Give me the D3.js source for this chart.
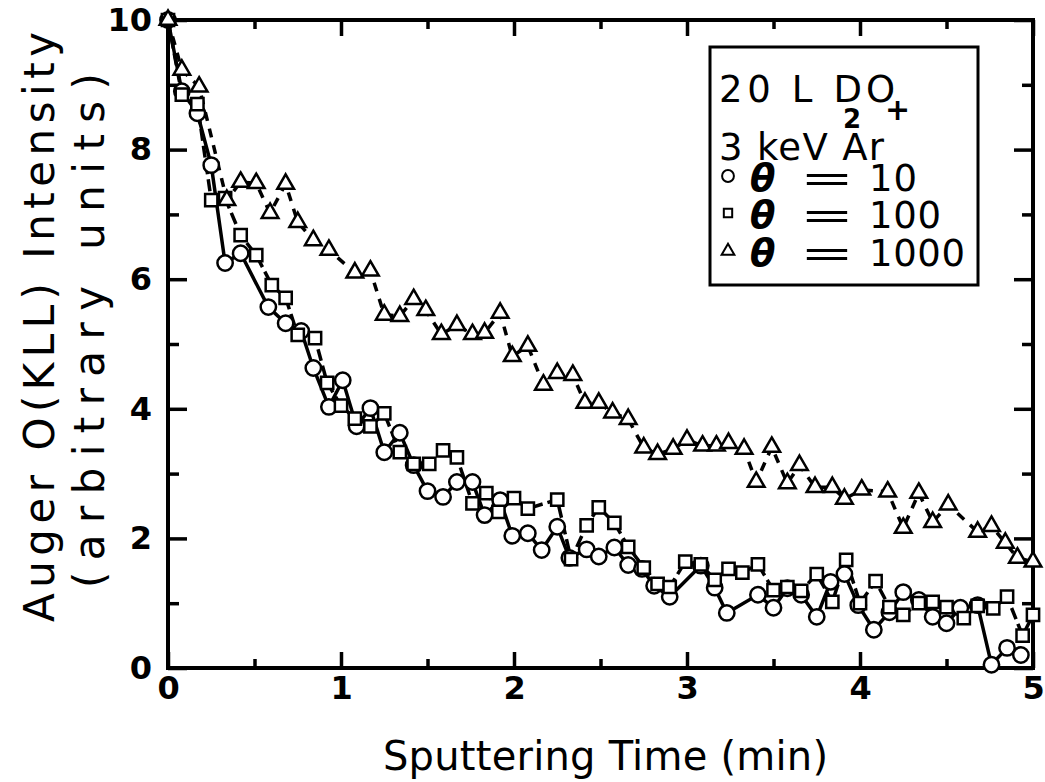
<!DOCTYPE html>
<html>
<head>
<meta charset="utf-8">
<script src="https://cdnjs.cloudflare.com/ajax/libs/d3/7.8.5/d3.min.js"></script>
<style>
  body { margin: 0; background: #fff; }
  svg { display: block; }
</style>
</head>
<body>
<script>
var width = 1045,
    height = 782;

// theta = 10 (circles)
var t10 = [0, 0.08, 0.17, 0.25, 0.33, 0.42, 0.58, 0.68, 0.77, 0.84, 0.93, 1.01, 1.09, 1.17, 1.25, 1.34, 1.42, 1.5, 1.59, 1.67, 1.76, 1.83, 1.92, 1.99, 2.08, 2.16, 2.25, 2.32, 2.42, 2.49, 2.58, 2.66, 2.74, 2.81, 2.9, 3.08, 3.16, 3.23, 3.41, 3.5, 3.58, 3.66, 3.75, 3.83, 3.91, 3.99, 4.08, 4.17, 4.25, 4.34, 4.42, 4.5, 4.58, 4.68, 4.76, 4.85, 4.93];
var v10 = [10, 8.9, 8.56, 7.76, 6.25, 6.4, 5.57, 5.32, 5.2, 4.63, 4.03, 4.44, 3.73, 4.01, 3.33, 3.63, 3.13, 2.73, 2.64, 2.87, 2.87, 2.36, 2.59, 2.04, 2.08, 1.82, 2.18, 1.7, 1.83, 1.72, 1.86, 1.59, 1.53, 1.27, 1.1, 1.58, 1.24, 0.85, 1.13, 0.93, 1.23, 1.13, 0.79, 1.33, 1.45, 0.97, 0.59, 0.86, 1.17, 1.05, 0.79, 0.69, 0.93, 0.97, 0.05, 0.31, 0.2];

// theta = 100 (squares)
var t100 = [0, 0.08, 0.17, 0.25, 0.33, 0.42, 0.51, 0.6, 0.68, 0.75, 0.85, 0.92, 1.0, 1.08, 1.17, 1.25, 1.34, 1.42, 1.51, 1.59, 1.67, 1.76, 1.84, 1.91, 2.0, 2.08, 2.25, 2.33, 2.42, 2.49, 2.58, 2.66, 2.75, 2.83, 2.9, 2.99, 3.08, 3.16, 3.24, 3.32, 3.41, 3.5, 3.58, 3.66, 3.75, 3.84, 3.92, 4.0, 4.09, 4.17, 4.25, 4.34, 4.42, 4.5, 4.6, 4.68, 4.77, 4.85, 4.94, 5.0];
var v100 = [10, 8.85, 8.7, 7.22, 7.25, 6.68, 6.37, 5.91, 5.71, 5.14, 5.09, 4.4, 4.05, 3.85, 3.73, 3.93, 3.33, 3.15, 3.15, 3.36, 3.25, 2.54, 2.7, 2.41, 2.62, 2.46, 2.6, 1.68, 2.2, 2.48, 2.24, 1.87, 1.55, 1.3, 1.25, 1.64, 1.6, 1.36, 1.53, 1.47, 1.6, 1.2, 1.25, 1.19, 1.45, 1.02, 1.67, 1.0, 1.34, 0.94, 0.82, 1.0, 1.02, 0.94, 0.77, 0.96, 0.92, 1.1, 0.5, 0.82];

// theta = 1000 (triangles)
var t1000 = [0, 0.08, 0.18, 0.34, 0.42, 0.51, 0.59, 0.68, 0.75, 0.84, 0.93, 1.08, 1.17, 1.25, 1.34, 1.42, 1.49, 1.58, 1.67, 1.76, 1.83, 1.92, 1.99, 2.08, 2.17, 2.25, 2.34, 2.41, 2.49, 2.57, 2.66, 2.75, 2.83, 2.92, 3.0, 3.09, 3.17, 3.24, 3.33, 3.4, 3.49, 3.58, 3.65, 3.74, 3.84, 3.91, 4.01, 4.16, 4.25, 4.34, 4.42, 4.51, 4.68, 4.76, 4.84, 4.91, 5.0];
var v1000 = [10, 9.23, 8.97, 7.22, 7.5, 7.48, 7.02, 7.47, 6.88, 6.6, 6.45, 6.1, 6.13, 5.45, 5.43, 5.69, 5.52, 5.15, 5.29, 5.15, 5.17, 5.48, 4.81, 4.97, 4.37, 4.55, 4.52, 4.09, 4.09, 3.94, 3.84, 3.4, 3.3, 3.38, 3.52, 3.43, 3.43, 3.47, 3.38, 2.87, 3.41, 2.85, 3.13, 2.79, 2.79, 2.61, 2.75, 2.72, 2.16, 2.7, 2.25, 2.52, 2.1, 2.19, 1.93, 1.7, 1.64];

var xTicks = [0, 1, 2, 3, 4, 5];
var xMinor = [0.5, 1.5, 2.5, 3.5, 4.5];
var yTicks = [0, 2, 4, 6, 8, 10];
var yMinor = [1, 3, 5, 7, 9];

var plotL = 168, plotR = 1033, plotT = 20, plotB = 668;

var svg = d3.select("body").append("svg")
    .attr("width", width)
    .attr("height", height);

var x = d3.scaleLinear().domain([0, 5]).range([plotL, plotR]);
var y = d3.scaleLinear().domain([0, 10]).range([plotB, plotT]);

var tickFont = "'DejaVu Sans', sans-serif";
var lf = "'DejaVu Sans', sans-serif";

function styleAxis(g) {
  g.select(".domain").remove();
  g.selectAll(".tick line").attr("stroke", "#000").attr("stroke-width", 3.5);
  g.selectAll(".tick text")
    .attr("font-family", tickFont)
    .attr("font-weight", "bold")
    .attr("font-size", 32)
    .attr("fill", "#000");
}

// bottom
svg.append("g").attr("transform", "translate(0," + plotB + ")")
  .call(d3.axisBottom(x).tickValues(xTicks).tickSize(-16).tickPadding(8).tickFormat(d3.format("d")))
  .call(styleAxis);
svg.append("g").attr("transform", "translate(0," + plotB + ")")
  .call(d3.axisBottom(x).tickValues(xMinor).tickSize(-9).tickFormat(""))
  .call(styleAxis);
// top
svg.append("g").attr("transform", "translate(0," + plotT + ")")
  .call(d3.axisTop(x).tickValues(xTicks).tickSize(-16).tickFormat(""))
  .call(styleAxis);
svg.append("g").attr("transform", "translate(0," + plotT + ")")
  .call(d3.axisTop(x).tickValues(xMinor).tickSize(-9).tickFormat(""))
  .call(styleAxis);
// left
svg.append("g").attr("transform", "translate(" + plotL + ",0)")
  .call(d3.axisLeft(y).tickValues(yTicks).tickSize(-19).tickPadding(16).tickFormat(d3.format("d")))
  .call(styleAxis);
svg.append("g").attr("transform", "translate(" + plotL + ",0)")
  .call(d3.axisLeft(y).tickValues(yMinor).tickSize(-11).tickFormat(""))
  .call(styleAxis);
// right
svg.append("g").attr("transform", "translate(" + plotR + ",0)")
  .call(d3.axisRight(y).tickValues(yTicks).tickSize(-19).tickFormat(""))
  .call(styleAxis);
svg.append("g").attr("transform", "translate(" + plotR + ",0)")
  .call(d3.axisRight(y).tickValues(yMinor).tickSize(-11).tickFormat(""))
  .call(styleAxis);

// frame
svg.append("rect")
  .attr("x", plotL).attr("y", plotT)
  .attr("width", plotR - plotL).attr("height", plotB - plotT)
  .attr("fill", "none").attr("stroke", "#000").attr("stroke-width", 4);

// series
var series = [
  { t: t10, v: v10, shape: "circle", dash: null },
  { t: t100, v: v100, shape: "square", dash: "12,5" },
  { t: t1000, v: v1000, shape: "triangle", dash: "9,8" }
];

var line = d3.line()
  .x(function(d) { return x(d[0]); })
  .y(function(d) { return y(d[1]); });

series.forEach(function(s) {
  var pts = s.t.map(function(t, i) { return [t, s.v[i]]; });
  s.pts = pts;
  svg.append("path")
    .datum(pts)
    .attr("d", line)
    .attr("fill", "none")
    .attr("stroke", "#000")
    .attr("stroke-width", 3.5)
    .attr("stroke-dasharray", s.dash);
});

var symCircle = d3.symbol().type(d3.symbolCircle).size(185);
var symSquare = d3.symbol().type(d3.symbolSquare).size(150);
var symTri = d3.symbol().type(d3.symbolTriangle).size(120);

function symFor(shape) {
  if (shape === "circle") return symCircle;
  if (shape === "square") return symSquare;
  return symTri;
}

series.forEach(function(s) {
  svg.append("g").selectAll("path")
    .data(s.pts)
    .enter().append("path")
    .attr("d", symFor(s.shape))
    .attr("transform", function(d) { return "translate(" + x(d[0]) + "," + y(d[1]) + ")"; })
    .attr("fill", "#fff")
    .attr("stroke", "#000")
    .attr("stroke-width", 2.5);
});

// legend
var lg = svg.append("g");
lg.append("rect")
  .attr("x", 710).attr("y", 47).attr("width", 268).attr("height", 238)
  .attr("fill", "#fff").attr("stroke", "#000").attr("stroke-width", 3);

lg.append("text").attr("x", 719).attr("y", 102)
  .attr("font-family", lf).attr("font-size", 37)
  .attr("textLength", 143).attr("lengthAdjust", "spacing").text("20 L D");
lg.append("text").attr("x", 866).attr("y", 102)
  .attr("font-family", lf).attr("font-size", 37).text("O");
lg.append("text").attr("x", 843).attr("y", 128)
  .attr("font-family", lf).attr("font-size", 26).attr("font-weight", "bold").text("2");
lg.append("text").attr("x", 719).attr("y", 160)
  .attr("font-family", lf).attr("font-size", 37)
  .attr("textLength", 165).attr("lengthAdjust", "spacing").text("3 keV Ar");
lg.append("text").attr("x", 885).attr("y", 120)
  .attr("font-family", lf).attr("font-size", 30).attr("font-weight", "bold").text("+");

var legRows = [
  { shape: "circle", label: "10", y: 191 },
  { shape: "square", label: "100", y: 228 },
  { shape: "triangle", label: "1000", y: 266 }
];
var legSym = {
  circle: d3.symbol().type(d3.symbolCircle).size(110),
  square: d3.symbol().type(d3.symbolSquare).size(70),
  triangle: d3.symbol().type(d3.symbolTriangle).size(70)
};
legRows.forEach(function(r) {
  lg.append("path")
    .attr("d", legSym[r.shape])
    .attr("transform", "translate(728," + (r.y - 15) + ")")
    .attr("fill", "#fff").attr("stroke", "#000").attr("stroke-width", 2);
  lg.append("text").attr("x", 750).attr("y", r.y)
    .attr("font-family", lf).attr("font-size", 37).attr("font-weight", "bold")
    .attr("font-style", "italic").text("\u03b8");
  lg.append("text").attr("x", 800).attr("y", r.y)
    .attr("font-family", lf).attr("font-size", 37)
    .attr("textLength", 54).attr("lengthAdjust", "spacingAndGlyphs").text("=");
  lg.append("text").attr("x", 869).attr("y", r.y)
    .attr("font-family", lf).attr("font-size", 37)
    .attr("textLength", r.label.length * 24).attr("lengthAdjust", "spacing").text(r.label);
});

// axis titles
svg.append("text")
  .attr("x", 383).attr("y", 770)
  .attr("font-family", lf).attr("font-size", 40)
  .attr("textLength", 445).attr("lengthAdjust", "spacing")
  .text("Sputtering Time (min)");

svg.append("text")
  .attr("transform", "translate(54,622) rotate(-90)")
  .attr("font-family", lf).attr("font-size", 42)
  .attr("textLength", 590).attr("lengthAdjust", "spacing")
  .text("Auger O(KLL) Intensity");
svg.append("text")
  .attr("transform", "translate(104,588) rotate(-90)")
  .attr("font-family", lf).attr("font-size", 42)
  .attr("textLength", 515).attr("lengthAdjust", "spacing")
  .text("(arbitrary units)");
</script>
</body>
</html>
